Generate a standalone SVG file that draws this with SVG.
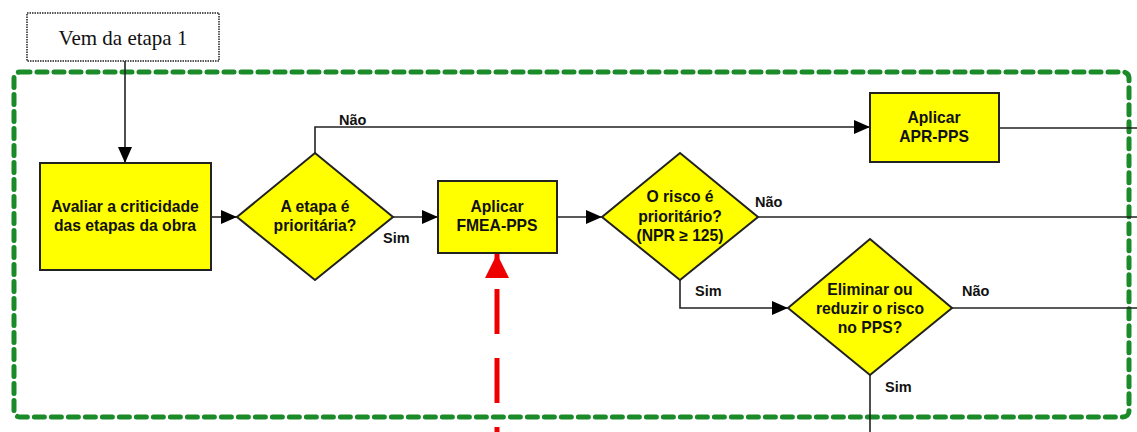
<svg xmlns="http://www.w3.org/2000/svg" width="1137" height="432" viewBox="0 0 1137 432">
  <defs>
    <marker id="arrow" markerUnits="userSpaceOnUse" markerWidth="16" markerHeight="14" refX="16" refY="7" orient="auto">
      <path d="M0,0 L16,7 L0,14 Z" fill="#000"/>
    </marker>
    <marker id="arrowRed" markerUnits="userSpaceOnUse" markerWidth="24" markerHeight="24" refX="24" refY="12" orient="auto">
      <path d="M0,0 L24,12 L0,24 Z" fill="#ee0000"/>
    </marker>
    <style>
      .box { fill: #ffff00; stroke: #222; stroke-width: 2; }
      .txt { font-family: "Liberation Sans", Arial, sans-serif; font-weight: bold; font-size: 15.7px; fill: #111; text-anchor: middle; }
      .lbl { font-family: "Liberation Sans", Arial, sans-serif; font-weight: bold; font-size: 14.5px; fill: #111; }
      .line { fill: none; stroke: #222; stroke-width: 1.6; }
    </style>
  </defs>
  <rect width="1137" height="432" fill="#fff"/>

  <!-- stage boundary -->
  <rect x="14" y="72" width="1115" height="345" rx="6" fill="none" stroke="#1b8a28" stroke-width="5" stroke-dasharray="10 7" stroke-linecap="round"/>

  <!-- connectors -->
  <g id="connectors">
    <path class="line" d="M125,61 V163" marker-end="url(#arrow)"/>
    <path class="line" d="M211,217 H237" marker-end="url(#arrow)"/>
    <path class="line" d="M315,153 V127 H870" marker-end="url(#arrow)"/>
    <path class="line" d="M999,128 H1137"/>
    <path class="line" d="M393,217 H438" marker-end="url(#arrow)"/>
    <path class="line" d="M557,217 H602" marker-end="url(#arrow)"/>
    <path class="line" d="M758,217 H1137"/>
    <path class="line" d="M680,280 V308 H788" marker-end="url(#arrow)"/>
    <path class="line" d="M952,308 H1137"/>
    <path class="line" d="M870,375 V432"/>
    <path d="M497,432 V254" fill="none" stroke="#ee0000" stroke-width="5" stroke-dasharray="45 24" stroke-dashoffset="40" marker-end="url(#arrowRed)"/>
    <text class="lbl" x="339" y="125">Não</text>
    <text class="lbl" x="383" y="243">Sim</text>
    <text class="lbl" x="755" y="207">Não</text>
    <text class="lbl" x="695" y="296">Sim</text>
    <text class="lbl" x="962" y="296">Não</text>
    <text class="lbl" x="885" y="392">Sim</text>
  </g>

  <g id="start">
    <rect x="27" y="13" width="192" height="48" fill="#fff" stroke="#222" stroke-width="1.5" stroke-dasharray="1.5 1"/>
    <text x="123" y="45" font-family="'Liberation Serif', 'Times New Roman', serif" font-size="21" text-anchor="middle" fill="#111">Vem da etapa 1</text>
  </g>

  <g id="avaliar">
    <rect class="box" x="40" y="163" width="171" height="107"/>
    <text class="txt" x="125" y="212">Avaliar a criticidade</text>
    <text class="txt" x="125" y="231">das etapas da obra</text>
  </g>

  <g id="etapa-prioritaria">
    <polygon class="box" points="315,153 393,217 315,280 237,217"/>
    <text class="txt" x="315" y="212">A etapa é</text>
    <text class="txt" x="315" y="231">prioritária?</text>
  </g>

  <g id="apr-pps">
    <rect class="box" x="870" y="93" width="129" height="69"/>
    <text class="txt" x="934" y="123">Aplicar</text>
    <text class="txt" x="934" y="142">APR-PPS</text>
  </g>

  <g id="fmea-pps">
    <rect class="box" x="438" y="181" width="119" height="72"/>
    <text class="txt" x="497" y="212">Aplicar</text>
    <text class="txt" x="497" y="231">FMEA-PPS</text>
  </g>

  <g id="risco-prioritario">
    <polygon class="box" points="680,153 758,217 680,280 602,217"/>
    <text class="txt" x="680" y="202">O risco é</text>
    <text class="txt" x="680" y="222">prioritário?</text>
    <text class="txt" x="680" y="241">(NPR ≥ 125)</text>
  </g>

  <g id="eliminar-reduzir">
    <polygon class="box" points="870,239 952,308 870,375 788,308"/>
    <text class="txt" x="870" y="295">Eliminar ou</text>
    <text class="txt" x="870" y="314">reduzir o risco</text>
    <text class="txt" x="870" y="333">no PPS?</text>
  </g>
</svg>
